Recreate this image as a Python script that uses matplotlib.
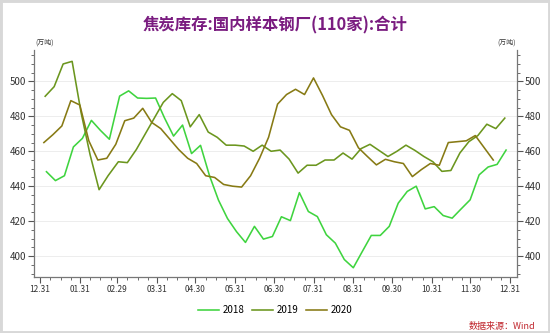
import matplotlib
matplotlib.use("Agg")
import matplotlib.pyplot as plt
import matplotlib.dates as mdates
from matplotlib.ticker import FixedLocator, MultipleLocator
from matplotlib.patches import Rectangle
import pandas as pd
import datetime as dt

plt.rcParams['font.family'] = ['Noto Sans CJK SC', 'DejaVu Sans']

# Weekly (Friday) coke inventory, 110 sample steel mills, 10k tonnes
dates_2018 = pd.date_range('2018-01-05', '2018-12-28', freq='W-FRI')
dates_2019 = pd.date_range('2019-01-04', '2019-12-27', freq='W-FRI')
dates_2020 = pd.date_range('2020-01-03', '2020-12-18', freq='W-FRI')

stock_2018 = [448.3, 443.2, 446, 462.5, 467.4, 477.7, 472, 466.9, 491.6, 494.6,
              490.5, 490.3, 490.5, 479, 468.7, 475, 458.7, 463.4, 446, 432,
              421.5, 414, 407.8, 417, 409.7, 411.2, 422.5, 420.3, 436.3, 425.5,
              422.6, 412.2, 407.4, 398, 393.3, 402.6, 411.8, 411.8, 417, 430.3,
              437, 440, 427, 428.3, 423.2, 421.7, 427, 432.2, 446.5, 451,
              452.5, 460.7]
stock_2019 = [491.5, 497, 510, 511.5, 482, 458, 438, 446, 454, 453.5,
              461, 470, 479, 488, 493, 489, 474, 481, 471, 468,
              463.5, 463.5, 463, 460, 463.5, 460, 460.7, 455.5, 447.5, 452,
              452, 455, 455, 459, 455.5, 461.5, 464, 460.5, 457, 460,
              463.5, 460.5, 457, 454, 448.5, 449, 459, 465.5, 469, 475.5,
              473, 479]
stock_2020 = [465, 469.5, 474.5, 489, 486.5, 466, 455, 456, 464, 477.5,
              479, 484.6, 476.5, 473, 467, 461, 456, 453, 446, 445,
              441, 440, 439.5, 446, 456, 468, 487, 492.5, 495.5, 492.5,
              502, 492, 481, 474, 472, 462, 457, 452.2, 455.4, 454,
              453, 445.5, 449.5, 453, 452, 465, 465.5, 466, 469, 462,
              455]

tick_dates = ['2019-12-31', '2020-01-31', '2020-02-29', '2020-03-31', '2020-04-30',
              '2020-05-31', '2020-06-30', '2020-07-31', '2020-08-31', '2020-09-30',
              '2020-10-31', '2020-11-30', '2020-12-31']

series = [
    ('2018', dates_2018, stock_2018, '#3FD43F'),
    ('2019', dates_2019, stock_2019, '#6B961E'),
    ('2020', dates_2020, stock_2020, '#877A14'),
]


def on_common_year(idx):
    # place every year's month-day on the 2020 calendar
    return [mdates.date2num(d.to_pydatetime().replace(year=2020)) for d in idx]


W, H = 550, 333
fig = plt.figure(figsize=(W / 100, H / 100), dpi=100)
fig.patch.set_facecolor('white')
fig.add_artist(Rectangle((0, 0), 1, 1, transform=fig.transFigure, fill=False,
                         edgecolor='#D8D8D8', linewidth=3.5))

L, R, B, T = 34, 517, 277, 50
ax = fig.add_axes([L / W, 1 - B / H, (R - L) / W, (B - T) / H])
ax.set_facecolor('white')

for label, idx, vals, color in series:
    ax.plot(on_common_year(idx), vals, color=color, lw=1.15, label=label)

x0 = mdates.date2num(dt.datetime(2019, 12, 31))
x1 = mdates.date2num(dt.datetime(2020, 12, 31))
ax.set_xlim(x0 - 4.7, x1 + 5.5)
ax.set_ylim(388, 518)

major = [mdates.date2num(pd.Timestamp(d).to_pydatetime()) for d in tick_dates]
ax.xaxis.set_major_locator(FixedLocator(major))
ax.set_xticklabels([pd.Timestamp(d).strftime('%m.%d') for d in tick_dates])
minor = []
for m in range(1, 13):
    for day in (8, 16, 24):
        minor.append(mdates.date2num(dt.datetime(2020, m, day)))
ax.xaxis.set_minor_locator(FixedLocator(minor))

ax.yaxis.set_major_locator(MultipleLocator(20))
ax.yaxis.set_minor_locator(MultipleLocator(5))
ax.set_yticks([400, 420, 440, 460, 480, 500])
ax.yaxis.set_ticks_position('both')
ax.tick_params(axis='y', which='both', labelleft=True, labelright=True,
               direction='out', colors='#555555', labelcolor='#333333')
ax.tick_params(axis='y', which='major', length=4, width=0.8, labelsize=7, pad=1.5)
ax.tick_params(axis='y', which='minor', length=2, width=0.6)
ax.tick_params(axis='x', which='major', length=4, width=0.8, labelsize=6,
               colors='#555555', labelcolor='#333333', pad=2)
ax.tick_params(axis='x', which='minor', length=2, width=0.6, colors='#555555')

ax.grid(axis='y', which='major', color='#EDEDED', lw=0.7)
ax.set_axisbelow(True)
for s in ('left', 'right', 'bottom'):
    ax.spines[s].set_color('#777777')
    ax.spines[s].set_linewidth(0.9)
ax.spines['top'].set_visible(False)

fig.text(0.5, 1 - 25 / H, '焦炭库存:国内样本钢厂(110家):合计', ha='center', va='center',
         fontsize=11.8, fontweight='bold', color='#7A1C80')
fig.text(L / W + 0.002, 1 - 47 / H, '(万吨)', ha='left', va='bottom', fontsize=5,
         color='#333333')
fig.text(R / W - 0.002, 1 - 47 / H, '(万吨)', ha='right', va='bottom', fontsize=5,
         color='#333333')

fig.legend(loc='center', bbox_to_anchor=(0.5, 1 - 310 / H), ncol=3, frameon=False,
           fontsize=7, handlelength=2.2, handletextpad=0.3, columnspacing=0.8)

fig.text(535 / W, 1 - 327 / H, '数据来源：Wind', ha='right', va='center',
         fontsize=6.5, color='#C0262D')

fig.savefig('out.png', dpi=100, facecolor='white')
